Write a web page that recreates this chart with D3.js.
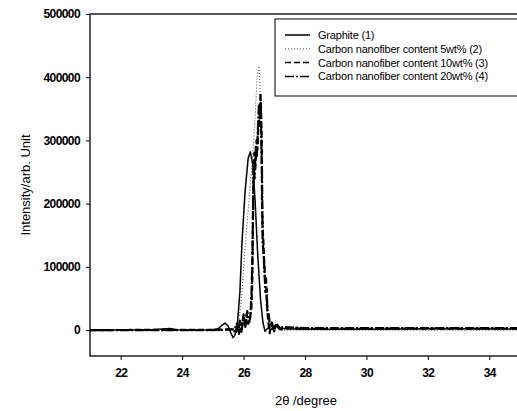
<!DOCTYPE html>
<meta charset="utf-8">
<style>
  body { margin: 0; background: #fff; }
  svg { font-family: "Liberation Sans", Arial, sans-serif; }
  .tick text { font-size: 12px; font-weight: bold; fill: #000; letter-spacing: -0.6px; }
  .legend text { font-size: 11px; fill: #000; letter-spacing: -0.2px; }
</style>
<body>
<script src="https://cdn.jsdelivr.net/npm/d3@7"></script>
<script>
  'use strict';

  // series data [2theta, intensity]
  const graphite = [[21,300],[22,0],[23,500],[23.6,2500],[23.8,500],[24.5,0],[25.0,500],[25.2,3000],[25.3,8000],
    [25.4,11000],[25.5,6000],[25.58,-4000],[25.66,-12000],[25.72,-8000],[25.8,10000],[25.88,60000],[25.95,140000],
    [26.05,220000],[26.15,272000],[26.22,282000],[26.3,262000],[26.38,200000],[26.46,120000],[26.55,50000],
    [26.63,12000],[26.7,-2000],[26.78,3000],[26.9,1000],[27.0,6000],[27.1,9000],[27.2,3000],[27.4,2000],
    [28,1500],[30,1500],[32,2000],[35,1500]];
  const cnf5 = [[21,0],[25,0],[25.5,1000],[25.8,5000],[25.85,15000],[25.95,60000],[26.05,130000],[26.15,190000],
    [26.22,230000],[26.3,280000],[26.38,340000],[26.44,400000],[26.5,418000],[26.54,380000],[26.58,300000],
    [26.62,200000],[26.68,100000],[26.75,30000],[26.85,5000],[27,0],[35,0]];
  const cnf10 = [[21,0],[25,500],[25.6,1000],[25.75,-3000],[25.8,8000],[25.85,-6000],[25.9,12000],[25.95,3000],
    [26.0,20000],[26.05,8000],[26.1,25000],[26.15,10000],[26.2,20000],[26.25,30000],[26.28,70000],[26.3,150000],
    [26.32,230000],[26.35,280000],[26.38,255000],[26.42,300000],[26.45,285000],[26.48,320000],[26.5,335000],
    [26.53,320000],[26.55,375000],[26.57,345000],[26.59,300000],[26.6,200000],[26.62,160000],[26.64,145000],
    [26.67,110000],[26.7,80000],[26.73,85000],[26.76,40000],[26.8,15000],[26.85,-5000],[26.9,10000],[26.95,0],
    [27.0,5000],[27.1,8000],[27.2,1000],[27.4,3000],[28,2000],[35,2500]];
  const cnf20 = [[21,0],[25,0],[25.7,1000],[25.78,10000],[25.83,-5000],[25.88,15000],[25.93,-3000],[26.0,25000],
    [26.06,5000],[26.12,30000],[26.18,12000],[26.22,20000],[26.26,60000],[26.29,120000],[26.31,200000],
    [26.33,260000],[26.36,240000],[26.4,290000],[26.43,275000],[26.46,310000],[26.5,355000],[26.53,335000],
    [26.56,360000],[26.58,290000],[26.6,250000],[26.62,140000],[26.65,120000],[26.68,95000],[26.71,60000],
    [26.75,65000],[26.78,30000],[26.82,25000],[26.86,5000],[26.92,12000],[27.0,-2000],[27.05,8000],[27.15,3000],
    [27.3,5000],[28,3000],[35,3000]];

  const labels = ["Graphite (1)", "Carbon nanofiber content 5wt% (2)",
                  "Carbon nanofiber content 10wt% (3)", "Carbon nanofiber content 20wt% (4)"];
  const xTicks = [22, 24, 26, 28, 30, 32, 34];
  const yTicks = [0, 100000, 200000, 300000, 400000, 500000];

  const styles = [
    {dash: null, width: 1.5, color: "#000"},
    {dash: "1,2", width: 1.1, color: "#555"},
    {dash: "6,3", width: 2.2, color: "#000"},
    {dash: "9,2,2,2", width: 2.2, color: "#000"}
  ];
  const series = [graphite, cnf5, cnf10, cnf20];

  const width = 517, height = 411;
  const margin = {top: 14, right: -3, bottom: 55, left: 90};

  const svg = d3.select("body").append("svg")
      .attr("width", width).attr("height", height);

  const x = d3.scaleLinear().domain([21, 35]).range([margin.left, width - margin.right]);
  const y = d3.scaleLinear().domain([-41000, 500000]).range([height - margin.bottom, margin.top]);

  svg.append("defs").append("clipPath").attr("id", "clip")
    .append("rect").attr("x", x(21)).attr("y", y(500000))
    .attr("width", x(35) - x(21)).attr("height", y(-41000) - y(500000));

  const line = d3.line().x(d => x(d[0])).y(d => y(d[1]));

  svg.append("g").attr("clip-path", "url(#clip)")
    .selectAll("path").data(series).enter().append("path")
      .attr("d", line)
      .attr("fill", "none")
      .attr("stroke", (d, i) => styles[i].color)
      .attr("stroke-width", (d, i) => styles[i].width)
      .attr("stroke-dasharray", (d, i) => styles[i].dash)
      .attr("stroke-linejoin", "round");

  // frame
  svg.append("rect")
    .attr("x", x(21)).attr("y", y(500000))
    .attr("width", x(35) - x(21)).attr("height", y(-41000) - y(500000))
    .attr("fill", "none").attr("stroke", "#000").attr("stroke-width", 1.3);

  const xAxis = svg.append("g")
    .attr("transform", `translate(0,${y(-41000)})`)
    .call(d3.axisBottom(x).tickValues(xTicks).tickSize(4).tickPadding(8));
  const yAxis = svg.append("g")
    .attr("transform", `translate(${x(21)},0)`)
    .call(d3.axisLeft(y).tickValues(yTicks).tickSize(4).tickPadding(6).tickFormat(d3.format("d")));
  [xAxis, yAxis].forEach(g => {
    g.select(".domain").remove();
    g.selectAll(".tick line").attr("stroke", "#000");
  });

  svg.append("text")
    .attr("x", 306).attr("y", 405)
    .attr("text-anchor", "middle").attr("font-size", 13)
    .text("2θ /degree");

  svg.append("text")
    .attr("transform", "translate(30,185) rotate(-90)")
    .attr("text-anchor", "middle").attr("font-size", 13)
    .text("Intensity/arb. Unit");

  // legend
  const legend = svg.append("g").attr("class", "legend");
  legend.append("rect")
    .attr("x", 275).attr("y", 19).attr("width", 260).attr("height", 77)
    .attr("fill", "#fff").attr("stroke", "#000").attr("stroke-width", 1);
  const item = legend.selectAll(".item").data(labels).enter().append("g")
    .attr("transform", (d, i) => `translate(285,${35 + i * 13.8})`);
  item.append("line")
    .attr("x1", 0).attr("x2", 25).attr("y1", 0).attr("y2", 0)
    .attr("stroke", (d, i) => styles[i].color)
    .attr("stroke-width", (d, i) => Math.min(styles[i].width, 1.5))
    .attr("stroke-dasharray", (d, i) => styles[i].dash);
  item.append("text")
    .attr("x", 33).attr("y", 4)
    .text(d => d);
</script>
